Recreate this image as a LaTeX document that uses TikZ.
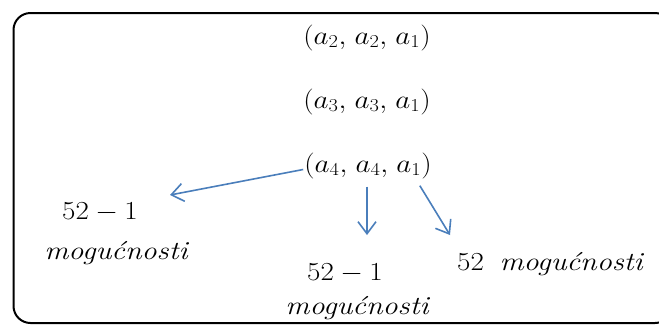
\RequirePackage{fix-cm}
\documentclass[tikz,border=0pt]{standalone}
\usetikzlibrary{arrows.meta}
\definecolor{arrblue}{HTML}{4A7EBB}
\newcommand\wx[1]{\scalebox{1.12}[1]{#1}}
\newcommand\wm{\scalebox{1.16}[1]{\itshape mogućnosti}}
\tikzset{
  lbl/.style={inner sep=0pt, anchor=base, font=\fontsize{26}{30}\selectfont},
  arr/.style={draw=arrblue, line width=1.6pt, -{Straight Barb[length=12pt,width=18pt]}},
  frame/.style={draw=black, line width=2pt, rounded corners=17pt}
}
\begin{document}
\begin{tikzpicture}[x=1pt,y=-1pt]
\useasboundingbox (0,0) rectangle (659,325);
\begin{scope}
  \clip (0,0) rectangle (659,325);
  \draw[frame] (13.5,13) rectangle (672,323);
\end{scope}
\node[lbl] (t1) at (367,44) {\wx{$(a_2,\mkern2mu a_2,\mkern2mu a_1)$}};
\node[lbl] (t2) at (367,108) {\wx{$(a_3,\mkern2mu a_3,\mkern2mu a_1)$}};
\node[lbl] (t3) at (368,172) {\wx{$(a_4,\mkern2mu a_4,\mkern2mu a_1)$}};
\node[lbl] (l1) at (100,219) {\wx{$52-1$}};
\node[lbl] (l2) at (116,259) {\wm};
\node[lbl] (m1) at (345,280) {\wx{$52-1$}};
\node[lbl] (m2) at (357,314) {\wm};
\node[lbl] (r1) at (550,270) {\wx{$52$}\hskip0.6em\wm};
\coordinate (e1) at (170,195);
\coordinate (e2) at (367,235);
\coordinate (e3) at (450,235);
\draw[arr] ([xshift=-1pt,yshift=-4pt]t3.west) -- (e1);
\draw[arr] (t3.south -| e2) ++(0,8) -- (e2);
\draw[arr] ([xshift=-12pt,yshift=-7pt]t3.south east) -- (e3);
\end{tikzpicture}
\end{document}
